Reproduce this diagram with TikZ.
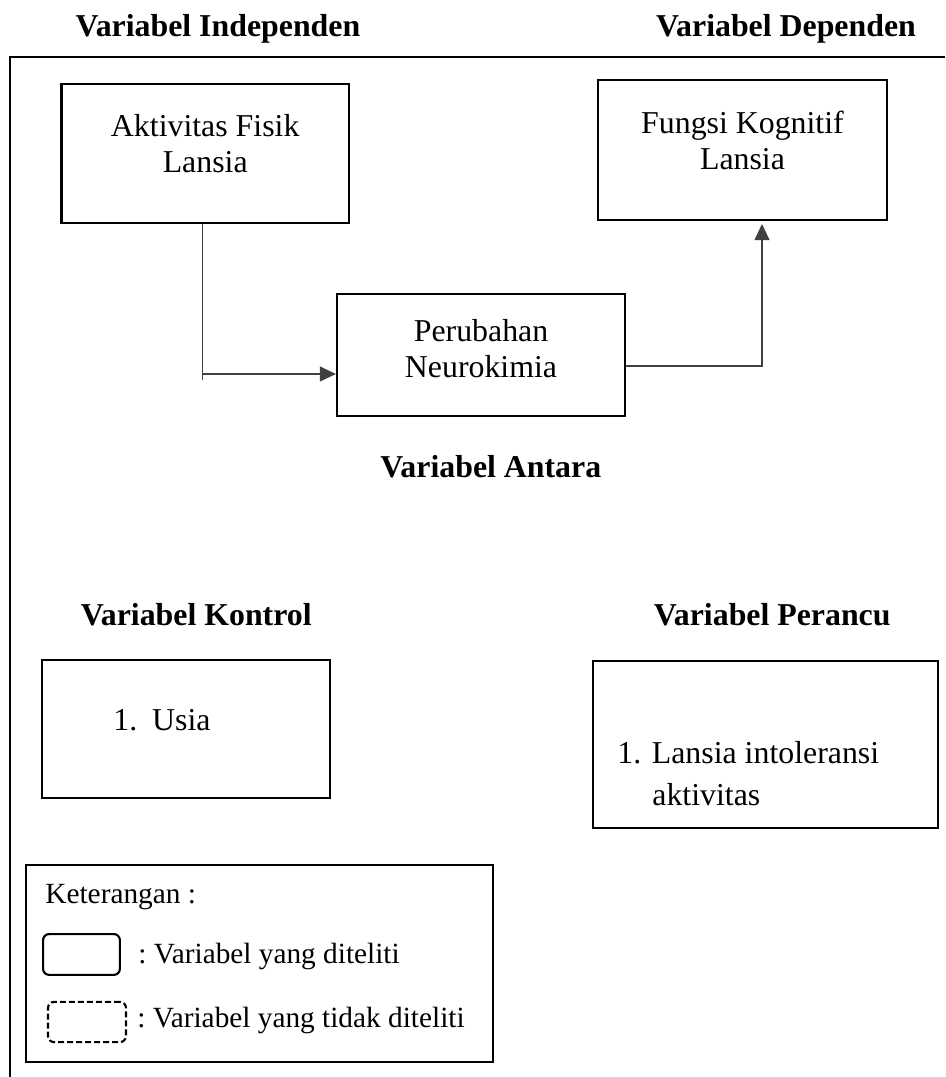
\documentclass[tikz,border=0pt]{standalone}
\usepackage{fontspec}
\setmainfont{Liberation Serif}
\usepackage{xcolor}
\usepackage{tikz}
\usetikzlibrary{positioning,arrows.meta}

\begin{document}
\begin{tikzpicture}[
    font=\fontsize{15.1}{17}\selectfont,
    var_box/.style={draw, line width=1pt, inner sep=0pt},
    var_text/.style={align=center, inner sep=0pt, anchor=base},
    key_text/.style={font=\fontsize{13.9}{16}\selectfont, inner sep=0pt, anchor=base west},
    heading/.style={font=\fontsize{15.1}{17}\selectfont\bfseries, inner sep=0pt, anchor=base},
    link/.style={draw=black!75, line width=0.65pt},
    >={Triangle[length=0.27cm, width=0.25cm]}
]
\useasboundingbox (0,0) rectangle (15.75,-17.95);

% frame
\draw[line width=1.1pt] (15.75,-0.95) -- (0.167,-0.95) -- (0.167,-17.95);

\node[heading] (title_independen) at (3.633,-0.6) {Variabel Independen};
\node[heading] (title_dependen) at (13.1,-0.6) {Variabel Dependen};

\node[var_box, minimum width=4.79cm, minimum height=2.32cm] (box_aktivitas) at (3.42,-2.558) {};
\node[var_text] (txt_aktivitas) at ([yshift=-1.5cm]box_aktivitas.north) {Aktivitas Fisik\\Lansia};

\node[var_box, minimum width=4.82cm, minimum height=2.33cm] (box_kognitif) at (12.375,-2.5) {};
\node[var_text] (txt_kognitif) at ([yshift=-1.5cm]box_kognitif.north) {Fungsi Kognitif\\Lansia};

\node[var_box, minimum width=4.8cm, minimum height=2.03cm] (box_perubahan) at (8.017,-5.917) {};
\node[var_text] (txt_perubahan) at ([yshift=-1.41cm]box_perubahan.north) {Perubahan\\Neurokimia};

\node[heading] (title_antara) at (8.18,-7.95) {Variabel Antara};

% arrows
\coordinate (bend_a) at (3.378,-6.233);
\coordinate (bend_b) at (12.7,-6.1);
\draw[link, ->] (box_aktivitas.south -| bend_a) -- (bend_a) -- (bend_a -| box_perubahan.west);
\draw[link] (bend_a) -- ++(0,-0.1);
\draw[link, ->, shorten >=0.05cm] (box_perubahan.east |- bend_b) -- (bend_b) -- (bend_b |- box_kognitif.south);

\node[heading] (title_kontrol) at (3.27,-10.43) {Variabel Kontrol};
\node[heading] (title_perancu) at (12.87,-10.43) {Variabel Perancu};

\node[var_box, minimum width=4.8cm, minimum height=2.3cm] (box_kontrol) at (3.097,-12.15) {};
\node[var_text, anchor=base west] (txt_kontrol) at (1.883,-12.183) {1.\hspace{0.47em}Usia};

\node[var_box, minimum width=5.75cm, minimum height=2.79cm] (box_perancu) at (12.758,-12.406) {};
\node[var_text, align=left, anchor=base west] (txt_perancu) at (10.283,-13.417)
    {1. Lansia intoleransi\\[2.8pt]\hspace*{1.1em}aktivitas};

% keterangan
\node[var_box, minimum width=7.78cm, minimum height=3.28cm] (box_keterangan) at (4.325,-16.058) {};
\node[key_text] (txt_keterangan) at (0.75,-15.05) {Keterangan :};
\node[draw, line width=1pt, rounded corners=0.1cm, minimum width=1.28cm, minimum height=0.68cm] (key_solid) at (1.358,-15.908) {};
\node[key_text] (txt_solid) at (2.3,-16.05) {:\hspace{0.25em}Variabel yang diteliti};
\node[draw, line width=1pt, dash pattern=on 0.1cm off 0.05cm, rounded corners=0.1cm, minimum width=1.3cm, minimum height=0.67cm] (key_dashed) at (1.45,-17.033) {};
\node[key_text] (txt_dashed) at (2.283,-17.117) {:\hspace{0.25em}Variabel yang tidak diteliti};

\end{tikzpicture}
\end{document}
